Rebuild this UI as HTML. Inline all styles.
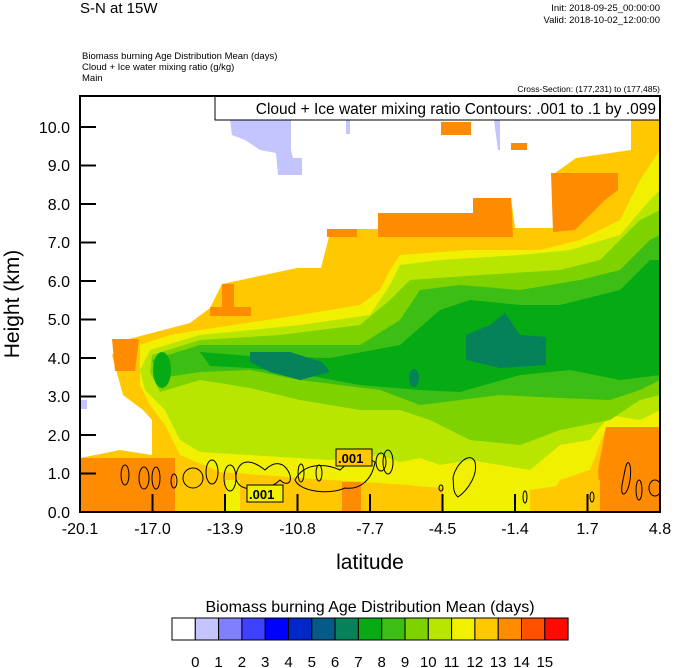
<!DOCTYPE html>
<html><head><style>
body{margin:0;background:#fff;}
svg{display:block;font-family:"Liberation Sans",Arial,sans-serif;}
</style></head><body>
<svg width="674" height="668" viewBox="0 0 674 668" xmlns="http://www.w3.org/2000/svg">
<rect width="674" height="668" fill="#fff"/>
<text x="80" y="13" font-size="15">S-N at 15W</text>
<text x="660" y="11" font-size="9.5" text-anchor="end">Init: 2018-09-25_00:00:00</text>
<text x="660" y="23" font-size="9.5" text-anchor="end">Valid: 2018-10-02_12:00:00</text>
<text x="82" y="59" font-size="9.5">Biomass burning Age Distribution Mean   (days)</text>
<text x="82" y="70" font-size="9.5">Cloud + Ice water mixing ratio   (g/kg)</text>
<text x="82" y="81" font-size="9.5">Main</text>
<text x="660" y="92" font-size="8.5" text-anchor="end">Cross-Section: (177,231) to (177,485)</text>
<defs><clipPath id="pc"><rect x="80" y="96" width="580" height="416"/></clipPath></defs>
<g clip-path="url(#pc)">
<!-- gold envelope -->
<polygon fill="#ffc800" points="80,458 120,450 152,455 152,420 143,410 123,395 112,355 125,340 190,323 210,308 222,284 297,268 321,268 331,229 378,229 378,213 473,213 473,198 511,198 515,228 553,228 555,173 576,158 631,150 631,96 660,96 660,512 80,512"/>
<!-- orange patches -->
<g fill="#ff8c00">
<polygon points="378,213 473,213 473,198 511,198 513,237 378,237"/>
<rect x="441" y="122" width="30" height="13"/>
<rect x="511" y="143" width="16" height="7"/>
<polygon points="551,173 618,173 618,190 605,200 590,215 575,230 553,232"/>
<rect x="80" y="458" width="95" height="54"/>
<polygon points="606,427 660,427 660,512 600,512 598,470"/>
<rect x="210" y="307" width="41" height="9"/>
<rect x="222" y="284" width="12" height="25"/>
<rect x="342" y="482" width="19" height="30"/>
<polygon points="112,339 139,339 135,371 115,371"/>
<rect x="327" y="229" width="30" height="8"/>
</g>
<!-- yellow -->
<polygon fill="#f0f000" points="140,345 170,335 200,330 300,315 360,305 380,290 390,270 400,255 470,250 540,250 580,240 620,220 640,180 660,150 660,427 606,427 590,470 560,480 540,512 443,512 443,490 410,485 330,480 220,472 180,455 165,425 150,405 140,385"/>
<rect x="226" y="480" width="14" height="32" fill="#f0f000"/>
<!-- gold bottom band -->
<polygon fill="#ffc800" points="175,480 226,480 226,512 175,512"/>
<polygon fill="#ffc800" points="240,485 342,482 342,512 240,512"/>
<polygon fill="#ffc800" points="361,482 443,488 443,512 361,512"/>
<polygon fill="#ffc800" points="530,490 600,480 600,512 530,512"/>
<rect x="342" y="482" width="19" height="30" fill="#ff8c00"/>
<!-- yellow green -->
<polygon fill="#b8e600" points="150,350 200,335 300,325 370,315 390,285 400,265 440,260 520,255 570,250 620,235 650,200 660,190 660,410 640,420 610,415 590,440 560,445 530,470 470,460 440,465 420,458 400,462 380,455 330,460 200,452 180,440 165,410 145,390 140,370"/>
<!-- light green -->
<polygon fill="#7dd200" points="152,355 200,340 280,335 360,325 390,300 410,280 480,275 560,270 600,260 640,220 660,210 660,395 640,400 610,420 560,430 520,445 470,440 430,420 400,410 360,410 300,400 250,388 200,380 160,392 150,372"/>
<!-- green2 -->
<polygon fill="#3cbe14" points="152,360 200,345 300,345 360,345 400,320 420,290 460,285 520,290 580,280 620,270 650,240 660,235 660,380 640,390 610,400 560,398 500,395 460,400 420,405 380,390 300,380 250,370 200,372 160,378"/>
<!-- green -->
<polygon fill="#05aa14" points="200,352 250,356 330,358 400,345 440,310 470,300 520,305 560,305 620,290 650,260 660,260 660,375 620,380 570,370 520,375 460,392 420,390 360,385 300,374 250,368 210,366"/>
<ellipse cx="162" cy="370" rx="9" ry="18" fill="#05aa14"/>
<!-- teal -->
<polygon fill="#05825a" points="250,352 290,352 322,362 330,372 300,380 270,372 250,362"/>
<polygon fill="#05825a" points="466,335 490,325 505,313 520,335 546,337 546,365 500,368 466,360"/>
<ellipse cx="414" cy="378" rx="5" ry="9" fill="#05825a"/>
<!-- lavender -->
<g fill="#c4c4ff">
<polygon points="230,120 291,120 291,150 293,158 302,158 302,175 278,175 276,153 260,150 245,140 232,135"/>
<rect x="346" y="120" width="4" height="14"/>
<polygon points="494,120 500,120 500,150 498,150"/>
<rect x="80" y="400" width="7" height="9"/>
</g>
<!-- contours -->
<g fill="none" stroke="#000" stroke-width="1">
<ellipse cx="125" cy="475" rx="4" ry="10"/>
<ellipse cx="144" cy="478" rx="5" ry="11"/>
<ellipse cx="156" cy="478" rx="4" ry="11"/>
<ellipse cx="174" cy="481" rx="3" ry="7"/>
<ellipse cx="193" cy="478" rx="10" ry="10"/>
<ellipse cx="212" cy="472" rx="6" ry="12"/>
<ellipse cx="230" cy="478" rx="6" ry="13"/>
<path d="M236,475 C240,455 255,462 265,470 C275,460 285,462 290,475 C292,485 285,485 280,480 C270,490 255,490 245,488 C238,486 235,480 236,475Z"/>
<path d="M295,480 C305,460 330,465 340,470 C350,460 365,455 375,462 C372,480 360,490 345,488 C330,495 300,492 295,480Z"/>
<ellipse cx="301" cy="473" rx="3" ry="9"/>
<ellipse cx="319" cy="473" rx="3" ry="8"/>
<ellipse cx="381" cy="462" rx="5" ry="9"/>
<ellipse cx="388" cy="462" rx="5" ry="12"/>
<path d="M453,478 C455,465 470,450 475,462 C478,475 468,490 458,497 C452,492 454,484 453,478Z"/>
<ellipse cx="441" cy="488" rx="2" ry="3"/>
<ellipse cx="525" cy="497" rx="2" ry="6"/>
<ellipse cx="592" cy="497" rx="2" ry="5"/>
<path d="M625,470 C628,455 632,465 630,480 C628,495 620,500 622,485Z"/>
<ellipse cx="639" cy="490" rx="3" ry="10"/>
<ellipse cx="655" cy="488" rx="6" ry="8"/>
</g>
<g font-size="13" font-weight="bold">
<rect x="247" y="485" width="36" height="17" fill="#f0f000" stroke="#000"/>
<text x="249" y="499">.001</text>
<rect x="336" y="449" width="36" height="17" fill="#ffc800" stroke="#000"/>
<text x="338" y="463">.001</text>
</g>
</g>
<!-- legend box -->
<rect x="215" y="96" width="445" height="24" fill="#fff" stroke="#000"/>
<text x="656" y="114" font-size="15.5" text-anchor="end">Cloud + Ice water mixing ratio Contours: .001 to .1 by .099</text>
<!-- frame -->
<rect x="80" y="96" width="580" height="416" fill="none" stroke="#000" stroke-width="2"/>
<g stroke="#000" stroke-width="2">
<line x1="80" y1="473.5" x2="96" y2="473.5"/><line x1="80" y1="435" x2="96" y2="435"/>
<line x1="80" y1="396.5" x2="96" y2="396.5"/><line x1="80" y1="358" x2="96" y2="358"/>
<line x1="80" y1="319.5" x2="96" y2="319.5"/><line x1="80" y1="281" x2="96" y2="281"/>
<line x1="80" y1="242.5" x2="96" y2="242.5"/><line x1="80" y1="204" x2="96" y2="204"/>
<line x1="80" y1="165.5" x2="96" y2="165.5"/><line x1="80" y1="127" x2="96" y2="127"/>
<line x1="152.5" y1="512" x2="152.5" y2="494"/><line x1="225" y1="512" x2="225" y2="494"/>
<line x1="297.5" y1="512" x2="297.5" y2="494"/><line x1="370" y1="512" x2="370" y2="494"/>
<line x1="442.5" y1="512" x2="442.5" y2="494"/><line x1="515" y1="512" x2="515" y2="494"/>
<line x1="587.5" y1="512" x2="587.5" y2="494"/>
</g>
<g font-size="16" text-anchor="end">
<text x="70" y="518">0.0</text><text x="70" y="479">1.0</text><text x="70" y="441">2.0</text>
<text x="70" y="402">3.0</text><text x="70" y="364">4.0</text><text x="70" y="325">5.0</text>
<text x="70" y="287">6.0</text><text x="70" y="248">7.0</text><text x="70" y="210">8.0</text>
<text x="70" y="171">9.0</text><text x="70" y="133">10.0</text>
</g>
<g font-size="16" text-anchor="middle">
<text x="80" y="534">-20.1</text><text x="152.5" y="534">-17.0</text><text x="225" y="534">-13.9</text>
<text x="297.5" y="534">-10.8</text><text x="370" y="534">-7.7</text><text x="442.5" y="534">-4.5</text>
<text x="515" y="534">-1.4</text><text x="587.5" y="534">1.7</text><text x="660" y="534">4.8</text>
</g>
<text x="370" y="569" font-size="21" text-anchor="middle">latitude</text>
<text transform="translate(19,304) rotate(-90)" font-size="21" text-anchor="middle">Height (km)</text>
<text x="370" y="612" font-size="16" text-anchor="middle">Biomass burning Age Distribution Mean  (days)</text>
<g stroke="#000" stroke-width="1">
<rect x="172" y="618" width="23.3" height="22" fill="#ffffff"/>
<rect x="195.3" y="618" width="23.3" height="22" fill="#c4c4ff"/>
<rect x="218.6" y="618" width="23.3" height="22" fill="#8080ff"/>
<rect x="241.9" y="618" width="23.3" height="22" fill="#4040ff"/>
<rect x="265.2" y="618" width="23.3" height="22" fill="#0000ff"/>
<rect x="288.5" y="618" width="23.3" height="22" fill="#0028c8"/>
<rect x="311.8" y="618" width="23.3" height="22" fill="#055a87"/>
<rect x="335.1" y="618" width="23.3" height="22" fill="#05825a"/>
<rect x="358.4" y="618" width="23.3" height="22" fill="#05aa14"/>
<rect x="381.7" y="618" width="23.3" height="22" fill="#3cbe14"/>
<rect x="405" y="618" width="23.3" height="22" fill="#7dd200"/>
<rect x="428.3" y="618" width="23.3" height="22" fill="#b8e600"/>
<rect x="451.6" y="618" width="23.3" height="22" fill="#f0f000"/>
<rect x="474.9" y="618" width="23.3" height="22" fill="#ffc800"/>
<rect x="498.2" y="618" width="23.3" height="22" fill="#ff8c00"/>
<rect x="521.5" y="618" width="23.3" height="22" fill="#ff5000"/>
<rect x="544.8" y="618" width="23.3" height="22" fill="#ff0a00"/>
</g>
<g font-size="15" text-anchor="middle">
<text x="195.3" y="667">0</text><text x="218.6" y="667">1</text><text x="241.9" y="667">2</text>
<text x="265.2" y="667">3</text><text x="288.5" y="667">4</text><text x="311.8" y="667">5</text>
<text x="335.1" y="667">6</text><text x="358.4" y="667">7</text><text x="381.7" y="667">8</text>
<text x="405" y="667">9</text><text x="428.3" y="667">10</text><text x="451.6" y="667">11</text>
<text x="474.9" y="667">12</text><text x="498.2" y="667">13</text><text x="521.5" y="667">14</text>
<text x="544.8" y="667">15</text>
</g>
</svg>
</body></html>
